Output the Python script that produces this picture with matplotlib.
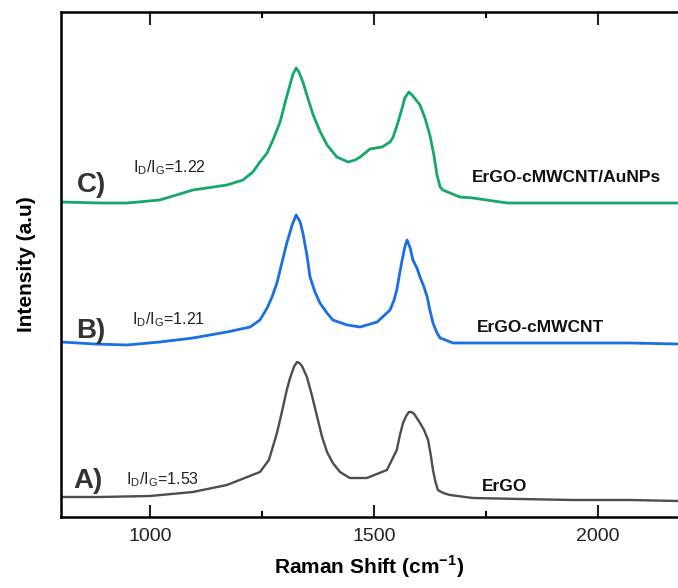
import matplotlib
matplotlib.use("Agg")
import matplotlib.pyplot as plt
from matplotlib.ticker import MultipleLocator

plt.rcParams['font.family'] = ['Liberation Sans', 'DejaVu Sans']
plt.rcParams['mathtext.fontset'] = 'custom'
plt.rcParams['mathtext.rm'] = 'Liberation Sans'

# ---- data ----
shift_A = [800, 887, 999, 1095, 1171, 1245, 1265, 1283, 1294, 1305, 1311, 1317, 1322, 1328,
           1333, 1339, 1344, 1350, 1361, 1373, 1384, 1395, 1408, 1424, 1446, 1484, 1529,
           1551, 1558, 1565, 1572, 1578, 1584, 1590, 1603, 1612, 1621, 1627, 1632, 1637,
           1643, 1655, 1670, 1721, 1827, 1945, 2073, 2180]
int_A = [20, 20, 21, 25, 32, 45, 57, 84, 105, 127, 137, 145, 151, 155,
         154, 151, 146, 140, 122, 100, 80, 65, 54, 45, 39, 39, 47,
         67, 82, 94, 101, 105, 105, 103, 94, 87, 77, 62, 47, 36,
         27, 24, 22, 19, 18, 17, 17, 16]

shift_B = [800, 876, 948, 1021, 1095, 1171, 1223, 1245, 1261, 1272, 1283, 1294, 1305, 1317,
           1326, 1335, 1341, 1350, 1357, 1368, 1379, 1395, 1408, 1440, 1469, 1507, 1536,
           1545, 1551, 1558, 1563, 1569, 1574, 1581, 1587, 1596, 1603, 1612, 1619, 1625,
           1632, 1641, 1648, 1677, 1721, 1827, 1945, 2073, 2180]
int_B = [175, 173, 172, 175, 179, 185, 190, 197, 209, 220, 234, 254, 274, 292,
         302, 295, 284, 262, 240, 225, 214, 204, 197, 192, 190, 195, 207,
         217, 227, 245, 257, 270, 277, 269, 257, 249, 240, 230, 220, 207,
         194, 184, 179, 174, 174, 174, 174, 174, 173]

shift_C = [800, 887, 948, 1021, 1095, 1171, 1207, 1229, 1245, 1261, 1276, 1290, 1301, 1312,
           1319, 1326, 1332, 1341, 1352, 1364, 1379, 1395, 1417, 1442, 1458, 1469, 1491,
           1518, 1536, 1543, 1554, 1563, 1569, 1578, 1587, 1603, 1614, 1625, 1634, 1641,
           1648, 1654, 1692, 1721, 1798, 1945, 2180]
int_C = [315, 314, 314, 317, 327, 332, 337, 345, 355, 364, 379, 395, 414, 432,
         443, 449, 445, 435, 419, 402, 386, 372, 360, 355, 357, 360, 368,
         370, 375, 380, 395, 409, 419, 425, 421, 412, 399, 382, 362, 342,
         330, 327, 320, 319, 314, 314, 314]

sample_names = ["ErGO", "ErGO-cMWCNT", "ErGO-cMWCNT/AuNPs"]
panel_tags = ["A)", "B)", "C)"]
ratio_labels = ["1.53", "1.21", "1.22"]
x_ticks = [1000, 1500, 2000]

colors = ["#4d4d4d", "#1a6fe3", "#16a86a"]
widths = [1.7, 2.0, 2.0]

fig = plt.figure(figsize=(6.78, 5.88), dpi=100)
ax = fig.add_axes([61 / 678, 1 - 517 / 588, 617 / 678, 505 / 588])

for xs, ys, c, w in zip([shift_A, shift_B, shift_C], [int_A, int_B, int_C], colors, widths):
    ax.plot(xs, ys, color=c, lw=w, solid_joinstyle='round')

ax.set_xlim(800, 2180)
ax.set_ylim(0, 505)
ax.set_xticks(x_ticks)
ax.xaxis.set_minor_locator(MultipleLocator(250))
ax.set_yticks([])
ax.tick_params(axis='x', which='major', direction='in', length=9, width=1.5,
               top=True, labelsize=14, pad=8, colors='#222222')
ax.tick_params(axis='x', which='minor', direction='in', length=4, width=1.5, top=True)
for s in ['left', 'bottom', 'top']:
    ax.spines[s].set_linewidth(1.8)
ax.spines['right'].set_visible(False)

ax.set_xlabel("Raman Shift (cm$^{\\mathregular{-1}}$)", fontsize=15, fontweight='bold', labelpad=6)
ax.set_ylabel("Intensity (a.u)", fontsize=15, fontweight='bold', labelpad=18)

tag_pos = [(0.044, 0.071), (0.049, 0.368), (0.050, 0.657)]
ratio_pos = [(0.105, 0.073), (0.115, 0.390), (0.117, 0.691)]
name_pos = [(0.682, 0.061), (0.674, 0.376), (0.666, 0.673)]

for i in range(3):
    ax.text(*tag_pos[i], panel_tags[i], transform=ax.transAxes, fontsize=20,
            fontweight='bold', color='#333333', ha='center', va='center')
    ax.text(*ratio_pos[i], "I$_\\mathregular{D}$/I$_\\mathregular{G}$=" + ratio_labels[i],
            transform=ax.transAxes, fontsize=11.5, color='#222222', ha='left', va='center')
    ax.text(*name_pos[i], sample_names[i], transform=ax.transAxes, fontsize=12.5,
            fontweight='bold', color='#111111', ha='left', va='center')

fig.savefig("out.png", dpi=100)
